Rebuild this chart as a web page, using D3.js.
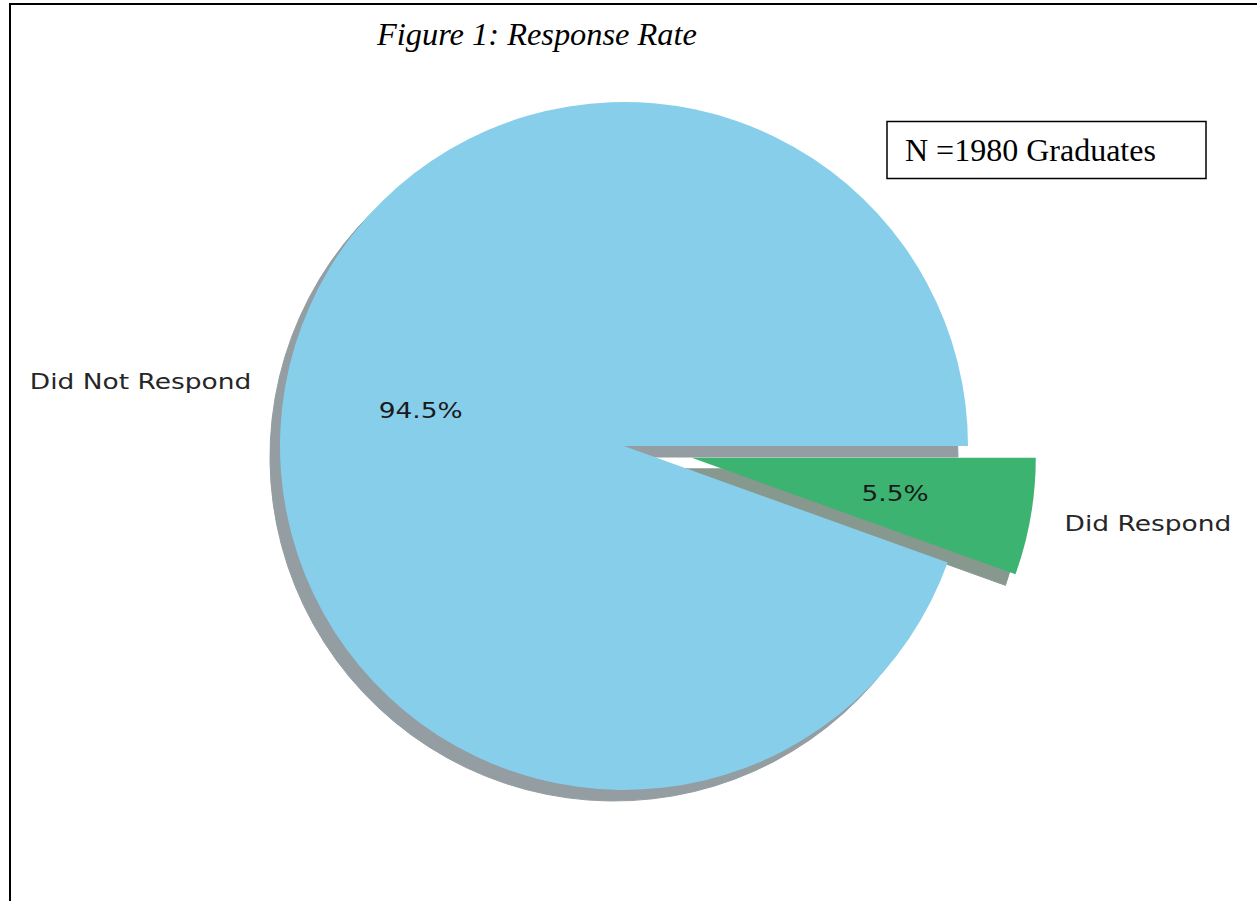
<!DOCTYPE html>
<html>
<head>
<meta charset="utf-8">
<script src="https://cdn.jsdelivr.net/npm/d3@7"></script>
<style>
  html, body { margin: 0; padding: 0; background: #fff; }
</style>
</head>
<body>
<div id="chart"></div>
<script>
// data
const labels = ["Did Not Respond", "Did Respond"];
const shares = [94.5, 5.5];
const colors = ["#87ceeb", "#3cb371"];
const explode = [0, 0.2];
const titleText = "Figure 1: Response Rate";
const noteText = "N =1980 Graduates";

const width = 1257, height = 901;
const cx = 624, cy = 446, radius = 344;
const shadowDx = -10, shadowDy = 11;
const stretch = 1.26; // the labels in the picture are drawn wider than tall

let svg = d3.select("#chart")
    .append("svg")
    .attr("width", width)
    .attr("height", height);

// frame lines (top and left only)
svg.append("line")
    .attr("x1", 9).attr("x2", width).attr("y1", 4).attr("y2", 4)
    .attr("stroke", "#000").attr("stroke-width", 2);
svg.append("line")
    .attr("x1", 10).attr("x2", 10).attr("y1", 3).attr("y2", height)
    .attr("stroke", "#000").attr("stroke-width", 2);

svg.append("text")
    .attr("x", 377)
    .attr("y", 45)
    .style("font-family", "'Liberation Serif', 'Times New Roman', serif")
    .style("font-style", "italic")
    .style("font-size", "32.4px")
    .text(titleText);

// note box
svg.append("rect")
    .attr("x", 887).attr("y", 121.5)
    .attr("width", 319).attr("height", 57)
    .attr("fill", "none").attr("stroke", "#000").attr("stroke-width", 1.5);
svg.append("text")
    .attr("x", 905)
    .attr("y", 161)
    .style("font-family", "'Liberation Serif', 'Times New Roman', serif")
    .style("font-size", "32px")
    .text(noteText);

// matplotlib style: start at 3 o'clock, go counterclockwise
let pie = d3.pie()
    .sort(null)
    .startAngle(Math.PI / 2)
    .endAngle(Math.PI / 2 - 2 * Math.PI)
    .value(d => d);

let slices = pie(shares);

let arc = d3.arc()
    .innerRadius(0)
    .outerRadius(radius);

function mid(d) { return (d.startAngle + d.endAngle) / 2; }
function offset(d, dist) {
    let a = mid(d);
    return [Math.sin(a) * dist * radius, -Math.cos(a) * dist * radius];
}

let g = svg.append("g")
    .attr("transform", "translate(" + cx + "," + cy + ")");

// shadows go behind every wedge
g.selectAll(".shadow")
    .data(slices)
    .enter().append("path")
    .attr("class", "shadow")
    .attr("d", arc)
    .attr("transform", function(d, i) {
        let o = offset(d, explode[i]);
        return "translate(" + (o[0] + shadowDx) + "," + (o[1] + shadowDy) + ")";
    })
    .attr("fill", function(d, i) {
        let c = d3.rgb(colors[i]);
        return d3.rgb(c.r * 0.3, c.g * 0.3, c.b * 0.3);
    })
    .attr("stroke", function(d, i) {
        let c = d3.rgb(colors[i]);
        return d3.rgb(c.r * 0.3, c.g * 0.3, c.b * 0.3);
    })
    .attr("stroke-width", 1)
    .style("opacity", 0.5);

g.selectAll(".arc")
    .data(slices)
    .enter().append("path")
    .attr("class", "arc")
    .attr("d", arc)
    .attr("transform", function(d, i) {
        let o = offset(d, explode[i]);
        return "translate(" + o[0] + "," + o[1] + ")";
    })
    .attr("fill", (d, i) => colors[i]);

// outer labels
g.selectAll(".label")
    .data(slices)
    .enter().append("text")
    .attr("class", "label")
    .attr("transform", function(d, i) {
        let o = offset(d, explode[i] + 1.1);
        return "translate(" + o[0] + "," + o[1] + ") scale(" + stretch + ",1)";
    })
    .attr("dy", "0.38em")
    .style("text-anchor", d => Math.sin(mid(d)) > 0 ? "start" : "end")
    .style("font-family", "'DejaVu Sans', sans-serif")
    .style("font-size", "21px")
    .style("fill", "#262626")
    .text((d, i) => labels[i]);

// percentages
g.selectAll(".pct")
    .data(slices)
    .enter().append("text")
    .attr("class", "pct")
    .attr("transform", function(d, i) {
        let o = offset(d, explode[i] + 0.6);
        return "translate(" + o[0] + "," + o[1] + ") scale(" + stretch + ",1)";
    })
    .attr("dy", "0.38em")
    .style("text-anchor", "middle")
    .style("font-family", "'DejaVu Sans', sans-serif")
    .style("font-size", "21px")
    .style("fill", "#1a1a1a")
    .text(d => d.data.toFixed(1) + "%");
</script>
</body>
</html>
